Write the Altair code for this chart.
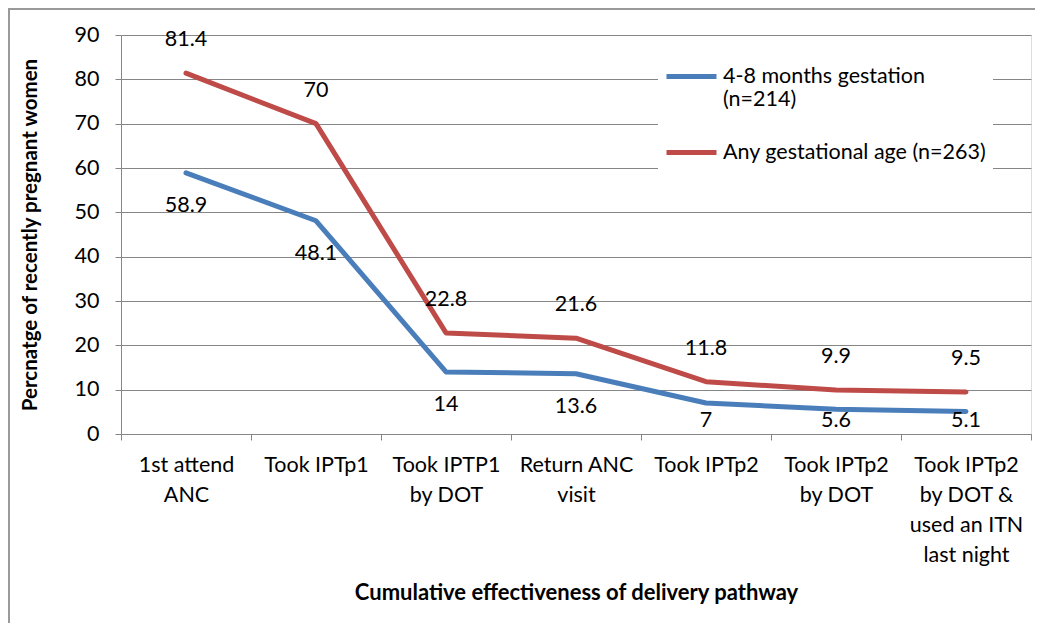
import altair as alt
import pandas as pd

categories = ["1st attend\nANC", "Took IPTp1", "Took IPTP1\nby DOT", "Return ANC\nvisit",
              "Took IPTp2", "Took IPTp2\nby DOT", "Took IPTp2\nby DOT &\nused an ITN\nlast night"]
series_names = ["4-8 months gestation (n=214)", "Any gestational age (n=263)"]
blue_values = [58.9, 48.1, 14, 13.6, 7, 5.6, 5.1]
red_values = [81.4, 70, 22.8, 21.6, 11.8, 9.9, 9.5]
y_ticks = [0, 10, 20, 30, 40, 50, 60, 70, 80, 90]

rows = []
for i, c in enumerate(categories):
    rows.append({"cat": c, "series": series_names[0], "value": blue_values[i], "order": i})
    rows.append({"cat": c, "series": series_names[1], "value": red_values[i], "order": i})
df = pd.DataFrame(rows)

FONT = "Lato"
FS = 21.5
W, H = 910, 399

xenc = alt.X("cat:N", sort=categories, bandPosition=0.5,
             scale=alt.Scale(type="band", paddingInner=0, paddingOuter=0),
             axis=alt.Axis(title="Cumulative effectiveness of delivery pathway",
                           labelExpr="split(datum.label, '\\n')", labelAngle=0,
                           labelFontSize=FS, labelLineHeight=30, labelBaseline="top",
                           labelPadding=14, labelColor="#000", labelFont=FONT,
                           tickBand="extent", tickSize=6, tickColor="#868686",
                           domainColor="#868686", grid=False, labelLimit=200,
                           titleFontSize=22, titleFontWeight="bold", titleFont=FONT,
                           titleColor="#000", titleY=158, titleBaseline="middle"))

yscale = alt.Scale(domain=[0, 90], nice=False)
yenc = alt.Y("value:Q", scale=yscale,
             axis=alt.Axis(title="Percnatge of recently pregnant women", values=y_ticks,
                           labelFontSize=FS, labelFont=FONT, labelColor="#000",
                           labelPadding=16, tickSize=6, tickColor="#868686",
                           domainColor="#868686", gridColor="#868686", gridWidth=1,
                           titleFontSize=20.5, titleFontWeight="bold", titleFont=FONT,
                           titleColor="#000", titleX=-91, titleY=H / 2,
                           titleAngle=-90, titleBaseline="middle", titleAlign="center"))

color = alt.Color("series:N", sort=series_names,
                  scale=alt.Scale(domain=series_names, range=["#4A7EBB", "#BE4B48"]),
                  legend=alt.Legend(title=None, orient="none", legendX=537, legendY=8,
                                    symbolType="stroke", symbolSize=2500, symbolStrokeWidth=5,
                                    labelFontSize=FS, labelFont=FONT, labelColor="#000",
                                    labelLimit=400, labelOffset=4, rowPadding=14,
                                    fillColor="white", padding=6,
                                    labelExpr="datum.label == '4-8 months gestation (n=214)' ? ['4-8 months gestation', '(n=214)'] : datum.label"))

lines = alt.Chart(df).mark_line(strokeWidth=5, strokeJoin="round", strokeCap="round").encode(
    x=xenc, y=yenc, color=color, detail="series:N", order="order:Q")

red_labels = alt.Chart(df).transform_filter(
    alt.datum.series == series_names[1]
).mark_text(dy=-33, fontSize=FS, font=FONT, color="#000", baseline="middle").encode(
    x=alt.X("cat:N", sort=categories, bandPosition=0.5),
    y=alt.Y("value:Q", scale=yscale),
    text=alt.Text("value:Q"))

blue_labels = alt.Chart(df).transform_filter(
    alt.datum.series == series_names[0]
).transform_calculate(
    ly="max(datum.value - 7.45, 2.9)"
).mark_text(fontSize=FS, font=FONT, color="#000", baseline="middle").encode(
    x=alt.X("cat:N", sort=categories, bandPosition=0.5),
    y=alt.Y("ly:Q", scale=yscale),
    text=alt.Text("value:Q"))

frame = pd.DataFrame({"k": [1]})
border_top = alt.Chart(frame).mark_rule(color="#9a9a9a", strokeWidth=2).encode(
    x=alt.value(-113), x2=alt.value(W + 40), y=alt.value(-26))
border_left = alt.Chart(frame).mark_rule(color="#9a9a9a", strokeWidth=2).encode(
    x=alt.value(-112), y=alt.value(-27), y2=alt.value(H + 300))

chart = alt.layer(border_top, border_left, lines, red_labels, blue_labels).properties(
    width=W, height=H,
    autosize=alt.AutoSizeParams(type="none"),
    padding={"left": 113, "top": 27, "right": 4, "bottom": 189},
).configure_view(stroke=None).configure(background="white")

chart.save("out.html", embed_options={"renderer": "svg", "actions": False})
